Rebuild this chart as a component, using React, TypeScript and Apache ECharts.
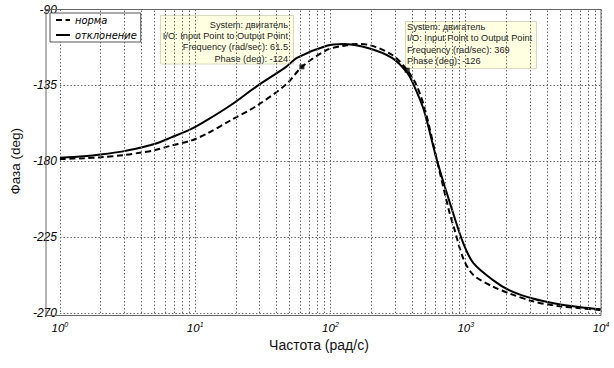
import React, { useEffect, useRef } from "react";
import * as echarts from "echarts";

// Норма (dashed)
const normFreq = [1, 1.5, 2, 3, 4, 5, 6.6, 9.3, 12.3, 18.5, 28, 47, 61.5, 94, 123, 155, 189, 287, 369, 432, 501, 612, 751, 816, 963, 1140, 1590, 2090, 3080, 4790, 7060, 10000];
const normPhase = [-178.7, -178.2, -177.6, -176.3, -174.8, -173.5, -170.8, -167.8, -163.5, -155.5, -147.5, -134.5, -124, -114, -111.6, -110.5, -110.9, -117, -126, -134.8, -149.6, -179.3, -209, -219, -238, -247.5, -254.4, -258.3, -262.9, -265.9, -267.2, -268.2];

// Отклонение (solid)
const devFreq = [1, 1.5, 2, 3, 4, 5, 6.6, 9.3, 12.3, 18.5, 28, 47, 57, 94, 123, 189, 287, 369, 413, 490, 612, 794, 963, 1140, 1590, 2090, 3080, 4790, 7060, 10000];
const devPhase = [-177.9, -177, -176, -174, -171.8, -169.8, -166, -161, -155.5, -146.5, -136, -124, -118.5, -111.5, -110.5, -112.8, -118.8, -127.5, -134.8, -149.6, -179.3, -209, -229, -240.4, -250.5, -256.4, -261.3, -264.7, -266.6, -267.8];

// Data tip markers
const markFreq = [61.5, 369];
const markPhase = [-124, -126];

const minorFreqTicks = [2, 3, 4, 5, 6, 7, 8, 9, 20, 30, 40, 50, 60, 70, 80, 90, 200, 300, 400, 500, 600, 700, 800, 900, 2000, 3000, 4000, 5000, 6000, 7000, 8000, 9000];

const tip1Lines = ["System: двигатель", "I/O: Input Point to Output Point", "Frequency (rad/sec): 61.5", "Phase (deg): -124"];
const tip2Lines = ["System: двигатель", "I/O: Input Point to Output Point", "Frequency (rad/sec): 369", "Phase (deg): -126"];

const FONT = "Liberation Sans, Arial, sans-serif";
const LEGEND_FONT = "DejaVu Sans Condensed, DejaVu Sans, sans-serif";
const GRID_COLOR = "#666";

export default function App() {
  const ref = useRef<HTMLDivElement>(null);

  useEffect(() => {
    if (!ref.current) return;
    const chart = echarts.init(ref.current, null, { renderer: "svg" });
    const dotted = { color: GRID_COLOR, width: 1, type: [1.5, 2] as any };

    chart.setOption({
      animation: false,
      backgroundColor: "#fff",
      grid: { left: 46, right: 13, top: 9.5, bottom: 55 },
      legend: {
        orient: "vertical",
        left: 50,
        top: 13,
        padding: [1, 4, 1, 5],
        itemGap: 3,
        itemWidth: 14,
        itemHeight: 10,
        backgroundColor: "#fff",
        borderColor: "#555",
        borderWidth: 1,
        borderRadius: 0,
        itemStyle: { opacity: 0 },
        textStyle: { fontStyle: "italic", fontSize: 11, lineHeight: 12, fontFamily: LEGEND_FONT, color: "#000" },
        data: ["норма", "отклонение"],
      },
      xAxis: {
        type: "log",
        logBase: 10,
        min: 1,
        max: 10000,
        name: "Частота (рад/с)",
        nameLocation: "middle",
        nameGap: 21,
        nameTextStyle: { fontSize: 14, fontFamily: FONT, color: "#111", padding: [0, 23, 0, 0] },
        axisLine: { show: false },
        axisTick: { show: false },
        splitLine: { show: true, lineStyle: dotted },
        axisLabel: {
          margin: 8,
          formatter: (v: number) => `{b|10}{s|${Math.round(Math.log10(v))}}`,
          rich: {
            b: { fontSize: 11.5, fontStyle: "italic", fontFamily: FONT, color: "#000" },
            s: { fontSize: 7, fontStyle: "italic", fontFamily: FONT, color: "#000", verticalAlign: "top", padding: [0, 0, 6, 0] },
          },
        },
      },
      yAxis: {
        type: "value",
        min: -270,
        max: -90,
        interval: 45,
        name: "Фаза (deg)",
        nameLocation: "middle",
        nameGap: 24,
        nameTextStyle: { fontSize: 13.5, fontFamily: FONT, color: "#111" },
        axisLine: { show: false },
        axisTick: { show: false },
        splitLine: { show: true, lineStyle: dotted },
        axisLabel: { margin: 3, fontSize: 12, fontStyle: "italic", fontFamily: FONT, color: "#000" },
      },
      series: [
        {
          name: "minor-grid",
          type: "line",
          data: [],
          silent: true,
          markLine: {
            silent: true,
            symbol: ["none", "none"],
            label: { show: false },
            lineStyle: dotted,
            data: minorFreqTicks.map((v) => ({ xAxis: v })),
          },
        },
        {
          name: "норма",
          type: "line",
          data: normFreq.map((f, i) => [f, normPhase[i]]),
          symbol: "none",
          smooth: 0.3,
          lineStyle: { color: "#000", width: 2, type: [6, 3.5] },
          itemStyle: { color: "#000" },
          z: 3,
        },
        {
          name: "отклонение",
          type: "line",
          data: devFreq.map((f, i) => [f, devPhase[i]]),
          symbol: "none",
          smooth: 0.3,
          lineStyle: { color: "#000", width: 2, type: "solid" },
          itemStyle: { color: "#000" },
          z: 3,
        },
        {
          name: "tips",
          type: "scatter",
          data: markFreq.map((f, i) => [f, markPhase[i]]),
          symbol: "rect",
          symbolSize: 5,
          itemStyle: { color: "#000" },
          z: 10,
        },
      ],
      graphic: [
        {
          type: "rect",
          z: 50,
          silent: true,
          shape: { x: 46, y: 9.5, width: 555, height: 306 },
          style: { fill: "none", stroke: "#666", lineWidth: 1 },
        },
        {
          type: "group",
          z: 60,
          children: [
            {
              type: "rect",
              shape: { x: 160.5, y: 15.5, width: 133, height: 48.5 },
              style: { fill: "#ffffe1", stroke: "#d8d8c0", lineWidth: 1 },
            },
            {
              type: "text",
              x: 288,
              y: 19,
              style: {
                text: tip1Lines.join("\n"),
                fontSize: 9.2,
                fontFamily: FONT,
                fill: "#222",
                align: "right",
                verticalAlign: "top",
                lineHeight: 11.3,
              },
            },
          ],
        },
        {
          type: "group",
          z: 60,
          children: [
            {
              type: "rect",
              shape: { x: 405.5, y: 21.5, width: 131, height: 47 },
              style: { fill: "#ffffe1", stroke: "#d8d8c0", lineWidth: 1 },
            },
            {
              type: "text",
              x: 407,
              y: 21.5,
              style: {
                text: tip2Lines.join("\n"),
                fontSize: 9.2,
                fontFamily: FONT,
                fill: "#222",
                align: "left",
                verticalAlign: "top",
                lineHeight: 11.3,
              },
            },
          ],
        },
      ],
    });

    return () => chart.dispose();
  }, []);

  return <div ref={ref} style={{ position: "fixed", left: 0, top: 0, width: 614, height: 368 }} />;
}
